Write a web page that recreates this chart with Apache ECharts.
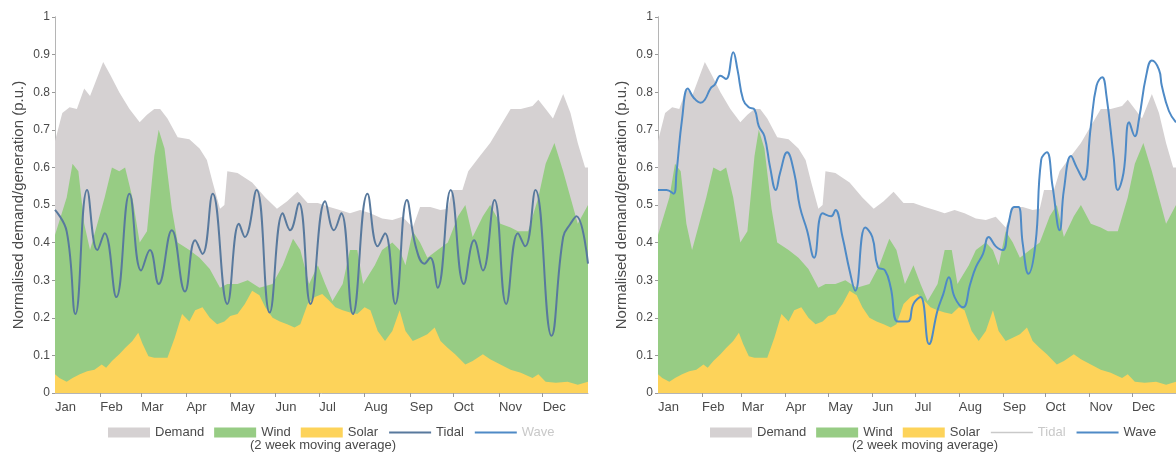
<!DOCTYPE html>
<html>
<head>
<meta charset="utf-8">
<script src="https://cdn.jsdelivr.net/npm/echarts@6/dist/echarts.min.js"></script>
<style>html,body{margin:0;padding:0;background:#fff;}#c{width:1176px;height:452px;}</style>
</head>
<body>
<div id="c"></div>
<script>
const months = ['Jan','Feb','Mar','Apr','May','Jun','Jul','Aug','Sep','Oct','Nov','Dec'];
const monthStarts = [0,31,59,90,120,151,181,212,243,273,304,334];

// [day of year, normalised value]
const demand = [[0,0.67],[5,0.745],[10,0.76],[15,0.755],[20,0.81],[24,0.79],[27,0.82],[33,0.88],[38,0.845],[44,0.80],[51,0.755],[58,0.72],[63,0.74],[68,0.755],[72,0.755],[77,0.73],[84,0.68],[92,0.675],[99,0.65],[104,0.62],[108,0.56],[113,0.49],[116,0.50],[118,0.59],[125,0.585],[135,0.56],[144,0.52],[152,0.49],[159,0.51],[166,0.535],[173,0.505],[180,0.505],[188,0.495],[195,0.487],[202,0.478],[209,0.487],[216,0.478],[224,0.464],[231,0.46],[238,0.469],[245,0.44],[250,0.495],[257,0.495],[264,0.487],[269,0.49],[272,0.54],[279,0.54],[283,0.59],[291,0.63],[298,0.665],[305,0.71],[312,0.755],[319,0.755],[327,0.763],[331,0.78],[336,0.755],[341,0.73],[348,0.795],[353,0.745],[358,0.665],[363,0.6],[365,0.6]];

const wind = [[0,0.42],[8,0.52],[12,0.61],[16,0.59],[20,0.45],[24,0.38],[29,0.45],[34,0.52],[39,0.60],[44,0.59],[48,0.60],[53,0.52],[58,0.40],[63,0.43],[68,0.63],[71,0.70],[75,0.65],[80,0.49],[84,0.40],[92,0.38],[99,0.36],[106,0.33],[113,0.28],[118,0.29],[125,0.29],[132,0.30],[140,0.28],[149,0.29],[156,0.34],[163,0.41],[168,0.38],[174,0.29],[180,0.34],[185,0.29],[190,0.245],[197,0.29],[202,0.38],[207,0.38],[211,0.29],[219,0.34],[224,0.38],[231,0.40],[236,0.38],[240,0.34],[245,0.43],[250,0.40],[255,0.36],[262,0.38],[269,0.40],[276,0.47],[281,0.50],[286,0.415],[293,0.47],[298,0.50],[305,0.45],[312,0.44],[317,0.43],[324,0.43],[331,0.52],[336,0.61],[342,0.665],[348,0.59],[353,0.52],[358,0.45],[365,0.50]];

const solar = [[0,0.05],[3,0.04],[8,0.03],[12,0.04],[17,0.05],[22,0.058],[27,0.062],[32,0.076],[35,0.067],[39,0.085],[44,0.103],[48,0.12],[53,0.138],[57,0.16],[60,0.13],[64,0.098],[68,0.094],[77,0.094],[82,0.147],[87,0.21],[92,0.19],[96,0.22],[101,0.228],[106,0.20],[111,0.183],[116,0.19],[120,0.205],[125,0.21],[130,0.237],[135,0.272],[140,0.26],[144,0.228],[149,0.20],[154,0.19],[159,0.183],[164,0.174],[168,0.183],[173,0.237],[178,0.255],[183,0.263],[188,0.245],[192,0.228],[197,0.22],[202,0.214],[207,0.21],[212,0.228],[216,0.22],[221,0.165],[226,0.138],[231,0.165],[236,0.22],[240,0.165],[245,0.138],[250,0.147],[255,0.156],[260,0.174],[264,0.138],[269,0.12],[274,0.103],[281,0.076],[286,0.085],[293,0.103],[298,0.09],[305,0.076],[312,0.062],[319,0.054],[327,0.04],[331,0.05],[336,0.03],[343,0.027],[351,0.03],[358,0.022],[365,0.03]];

const tidal = [[0,0.487],[8,0.43],[14,0.21],[22,0.54],[29,0.38],[34,0.425],[42,0.255],[51,0.53],[59,0.326],[65,0.38],[71,0.29],[80,0.433],[89,0.27],[96,0.406],[101,0.37],[108,0.53],[118,0.237],[126,0.45],[130,0.415],[138,0.54],[147,0.214],[156,0.478],[161,0.433],[167,0.505],[175,0.237],[185,0.51],[191,0.433],[196,0.478],[204,0.21],[214,0.53],[221,0.39],[226,0.425],[233,0.237],[241,0.513],[247,0.39],[253,0.344],[257,0.36],[262,0.28],[271,0.54],[280,0.29],[287,0.406],[293,0.326],[301,0.513],[309,0.237],[317,0.425],[322,0.39],[329,0.54],[340,0.152],[348,0.415],[353,0.45],[357,0.47],[365,0.344]];

const wave = [[0,0.54],[6,0.54],[11,0.53],[13,0.585],[17,0.73],[21,0.81],[25,0.786],[30,0.772],[33,0.78],[37,0.81],[40,0.82],[44,0.844],[48,0.835],[53,0.906],[56,0.86],[60,0.78],[64,0.76],[68,0.754],[71,0.71],[75,0.683],[79,0.60],[83,0.54],[86,0.585],[91,0.64],[96,0.585],[100,0.495],[105,0.433],[110,0.36],[116,0.478],[122,0.47],[125,0.487],[130,0.415],[135,0.326],[139,0.272],[146,0.44],[151,0.415],[155,0.335],[160,0.326],[164,0.28],[169,0.19],[176,0.19],[180,0.237],[185,0.255],[191,0.13],[197,0.22],[201,0.263],[205,0.308],[209,0.255],[215,0.228],[220,0.29],[224,0.335],[229,0.37],[233,0.415],[238,0.39],[243,0.38],[247,0.45],[251,0.495],[254,0.495],[257,0.397],[261,0.317],[266,0.397],[270,0.62],[274,0.64],[278,0.55],[283,0.433],[286,0.54],[291,0.63],[295,0.60],[300,0.567],[305,0.71],[309,0.817],[313,0.84],[316,0.79],[321,0.63],[324,0.54],[328,0.585],[332,0.72],[336,0.683],[339,0.73],[344,0.844],[348,0.884],[353,0.86],[355,0.817],[360,0.75],[365,0.72]];

const C = {demand:'#d5d1d2', wind:'#97cc84', solar:'#fdd35a', tidal:'#58799d', wave:'#4e8ac6', text:'#4a4a4a', axis:'#b5b5b5', faded:'#c9c9c9'};
const FONT = 'Liberation Sans, Arial, sans-serif';

function xAxes(g){
  return [
    {gridIndex:g,type:'value',min:0,max:365,position:'bottom',
     axisLine:{show:false},axisTick:{show:false},splitLine:{show:false},
     axisLabel:{customValues:monthStarts,formatter:v=>months[monthStarts.indexOf(v)],align:'left',margin:8,color:C.text,fontSize:13,fontFamily:FONT}},
    {gridIndex:g,type:'value',min:0,max:365,position:'top',
     axisLine:{show:true,lineStyle:{color:C.axis}},
     axisTick:{show:true,inside:true,length:4,customValues:monthStarts.slice(1),lineStyle:{color:'#999'}},
     axisLabel:{show:false},splitLine:{show:false}}
  ];
}
function yAxes(g){
  return [
    {gridIndex:g,type:'value',min:0,max:1,interval:0.1,position:'left',
     name:'Normalised demand/generation (p.u.)',nameLocation:'middle',nameGap:29,
     nameTextStyle:{color:C.text,fontSize:15,fontFamily:FONT},
     axisLine:{show:true,lineStyle:{color:C.axis}},axisTick:{show:true,length:3,lineStyle:{color:'#999'}},
     splitLine:{show:false},axisLabel:{color:C.text,fontSize:12,margin:5,fontFamily:FONT}},
    {gridIndex:g,type:'value',min:0,max:1,interval:0.1,position:'right',
     axisLine:{show:true,lineStyle:{color:C.axis}},axisTick:{show:true,inside:true,length:3,lineStyle:{color:'#999'}},
     splitLine:{show:false},axisLabel:{show:false}}
  ];
}
function area(name,data,color,xi,yi,z){
  return {name:name,type:'line',xAxisIndex:xi,yAxisIndex:yi,data:data,symbol:'none',z:z,
    lineStyle:{width:0,color:color},itemStyle:{color:color},areaStyle:{color:color,opacity:1}};
}
function line(name,data,color,xi,yi){
  return {name:name,type:'line',xAxisIndex:xi,yAxisIndex:yi,data:data,symbol:'none',smooth:0.45,z:10,
    lineStyle:{width:2,color:color},itemStyle:{color:color}};
}
function legend(left,faded){
  const items = [
    {name:'Demand',icon:'rect'},{name:'Wind',icon:'rect'},{name:'Solar',icon:'rect'},
    {name:'Tidal',itemStyle:{opacity:0}},{name:'Wave',itemStyle:{opacity:0}}
  ].map(it=>{
    if(it.name===faded){
      it.textStyle={color:C.faded};
      if(faded==='Tidal'){it.lineStyle={color:C.faded,width:1.5};}
    }
    return it;
  });
  return {left:left,top:421,itemWidth:42,itemHeight:10,itemGap:10,selectedMode:false,data:items,
    textStyle:{color:C.text,fontSize:13,fontFamily:FONT}};
}

const chart = echarts.init(document.getElementById('c'),null,{renderer:'canvas'});
chart.setOption({
  animation:false,
  backgroundColor:'#fff',
  grid:[{left:55,top:17,width:533,height:376},{left:658,top:17,width:533,height:376}],
  xAxis:[...xAxes(0),...xAxes(1)],
  yAxis:[...yAxes(0),...yAxes(1)],
  legend:[legend(103,'Wave'),legend(705,'Tidal')],
  graphic:[
    {type:'text',left:250,top:439,style:{text:'(2 week moving average)',fill:C.text,fontSize:13,fontFamily:FONT}},
    {type:'text',left:852,top:439,style:{text:'(2 week moving average)',fill:C.text,fontSize:13,fontFamily:FONT}}
  ],
  series:[
    area('Demand',demand,C.demand,0,0,1),
    area('Wind',wind,C.wind,0,0,2),
    area('Solar',solar,C.solar,0,0,3),
    line('Tidal',tidal,C.tidal,0,0),
    area('Demand',demand,C.demand,2,2,1),
    area('Wind',wind,C.wind,2,2,2),
    area('Solar',solar,C.solar,2,2,3),
    line('Wave',wave,C.wave,2,2)
  ]
});
</script>
</body>
</html>
